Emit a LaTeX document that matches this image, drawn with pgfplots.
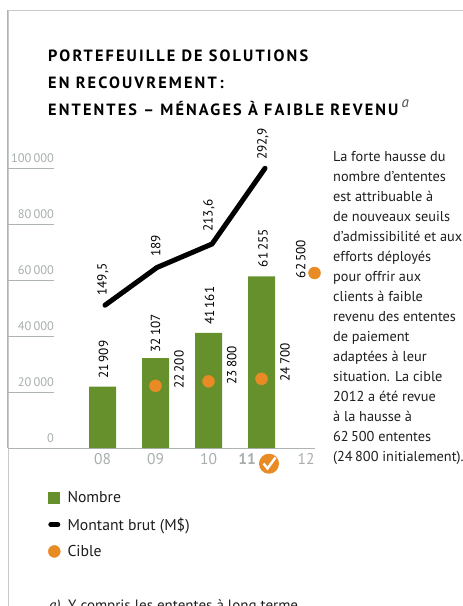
\documentclass[border=0pt]{standalone}
\usepackage{fontspec}
\usepackage{pgfplots}
\pgfplotsset{compat=1.18}
\setmainfont{PT Sans}
\newfontfamily\titlefont[LetterSpace=13]{PT Sans}
\definecolor{barg}{HTML}{66902C}
\definecolor{cib}{HTML}{E98B24}
\definecolor{axg}{HTML}{AEB4B4}
\definecolor{frameg}{HTML}{C6CACA}
\definecolor{tickt}{HTML}{A8ADAD}
\definecolor{txt}{HTML}{1E1E1E}
\newcommand{\lab}[3]{\node[rotate=90,anchor=west,inner sep=0pt,text=black,font=\fontsize{13.2}{13.2}\selectfont] at (#1pt,-#2pt) {#3};}
\begin{document}
\begin{tikzpicture}[x=1pt,y=1pt]
\path[use as bounding box,clip] (0pt,0pt) rectangle (463pt,-606pt);
% frame
\draw[frameg,line width=1.5pt] (8.3pt,-606pt) -- (8.3pt,-10.5pt) -- (463pt,-10.5pt);
\begin{axis}[
  at={(8pt,-448pt)},anchor=south west,scale only axis,
  width=307pt,height=438pt,
  xmin=-1.783,xmax=4.009,ymin=0,ymax=156429,
  axis x line=bottom,axis y line=left,
  axis line style={axg,line width=1pt,-},
  xtick={0,1,2,3,4},
  xticklabels={08,09,10,{\makebox[0pt][r]{\textbf{11}\hspace{5.5pt}}},{\makebox[0pt][r]{12\hspace{0pt}}}},
  ytick={0,20000,40000,60000,80000,100000},
  yticklabels={0,{20\,000},{40\,000},{60\,000},{80\,000},{100\,000}},
  scaled y ticks=false,
  yticklabel style={anchor=east,xshift=46pt,yshift=10pt,inner sep=0pt,text=tickt,font=\fontsize{12.4}{12.4}\selectfont},
  xticklabel style={text=tickt,font=\fontsize{15.5}{15.5}\selectfont,yshift=-2pt},
  tick align=inside,
  xtick style={draw=none},
  ytick style={axg,line width=1pt},
  major tick length=46pt,
  clip=false,
  legend style={at={(0.13,-0.094)},anchor=north west,draw=none,fill=none,inner sep=0pt,
    font=\fontsize{15.7}{15.7}\selectfont,text=txt,row sep=9.5pt,
    /tikz/every odd column/.append style={column sep=5pt}},
  legend cell align=left,
]
\addplot[ybar,bar width=27pt,bar shift=0pt,fill=barg,draw=none,
  legend image code/.code={\fill[barg] (0pt,-6pt) rectangle (12pt,6pt);}]
  coordinates {(0,21909) (1,32107) (2,41161) (3,61255)};
\addlegendentry{Nombre}
\addlegendimage{legend image code/.code={\draw[black,line width=5pt,line cap=round] (2.5pt,0pt) -- (9.5pt,0pt);\path[draw=none,fill=none] (0pt,-6pt) rectangle (12pt,6pt);}}
\addlegendentry{Montant brut (M\$)}
\addplot[only marks,mark=*,mark size=6pt,color=cib,mark options={draw=none,fill=cib},
  legend image code/.code={\fill[cib] (6pt,0pt) circle (6pt);}]
  coordinates {(1,22200) (2,23800) (3,24700) (4,62500)};
\addlegendentry{Cible}
\end{axis}
\begin{axis}[
  at={(8pt,-448pt)},anchor=south west,scale only axis,
  width=307pt,height=438pt,
  xmin=-1.783,xmax=4.009,ymin=0,ymax=458.6,
  hide axis,clip=false,
]
\addplot[black,line width=5pt,line cap=round,line join=round]
  coordinates {(0.047,149.5) (1.028,189) (2.066,213.6) (3.066,292.9)};
\end{axis}
% value labels
\lab{103.5}{379}{21\,909}
\lab{155.5}{352.5}{32\,107}
\lab{209.5}{325}{41\,161}
\lab{263}{267.3}{61\,255}
\lab{103}{295.7}{149,5}
\lab{155.7}{257}{189}
\lab{209}{231.7}{213,6}
\lab{263}{160}{292,9}
\lab{179}{389}{22\,200}
\lab{231.7}{384.7}{23\,800}
\lab{285}{381.7}{24\,700}
\lab{300.7}{278.3}{62\,500}
% target reached icon
\fill[cib] (269pt,-463.7pt) circle (10pt);
\draw[white,line width=2.4pt] (263.5pt,-463.5pt) -- (267.5pt,-468.5pt) -- (275.5pt,-457.5pt);
% title
\begin{scope}[every node/.style={anchor=base west,inner sep=0pt,text=black}]
\node at (48pt,-61.7pt) {\titlefont\bfseries\fontsize{16.3}{16.3}\selectfont PORTEFEUILLE DE SOLUTIONS};
\node at (48pt,-88.3pt) {\titlefont\bfseries\fontsize{16.3}{16.3}\selectfont EN RECOUVREMENT\,:};
\node at (48pt,-115pt) {\titlefont\bfseries\fontsize{16.3}{16.3}\selectfont ENTENTES – MÉNAGES À FAIBLE REVENU};
\node[text=black!70] at (401.5pt,-107.5pt) {\fontsize{15}{15}\selectfont\itshape a};
\node[text=txt] at (49pt,-610pt) {\fontsize{15}{15}\selectfont\itshape a)};
\node[text=txt] at (68pt,-610pt) {\fontsize{15}{15}\selectfont Y compris les ententes à long terme.};
\end{scope}
% commentary
\node[anchor=north west,inner sep=0pt,align=left,text=txt,font=\fontsize{14.3}{19.95}\selectfont] at (333pt,-151.5pt) {La forte hausse du\\nombre d’ententes\\est attribuable à\\de nouveaux seuils\\d’admissibilité et aux\\efforts déployés\\pour offrir aux\\clients à faible\\revenu des ententes\\de paiement\\adaptées à leur\\situation. La cible\\2012 a été revue\\à la hausse à\\62\,500 ententes\\(24\,800 initialement).};
\end{tikzpicture}
\end{document}
